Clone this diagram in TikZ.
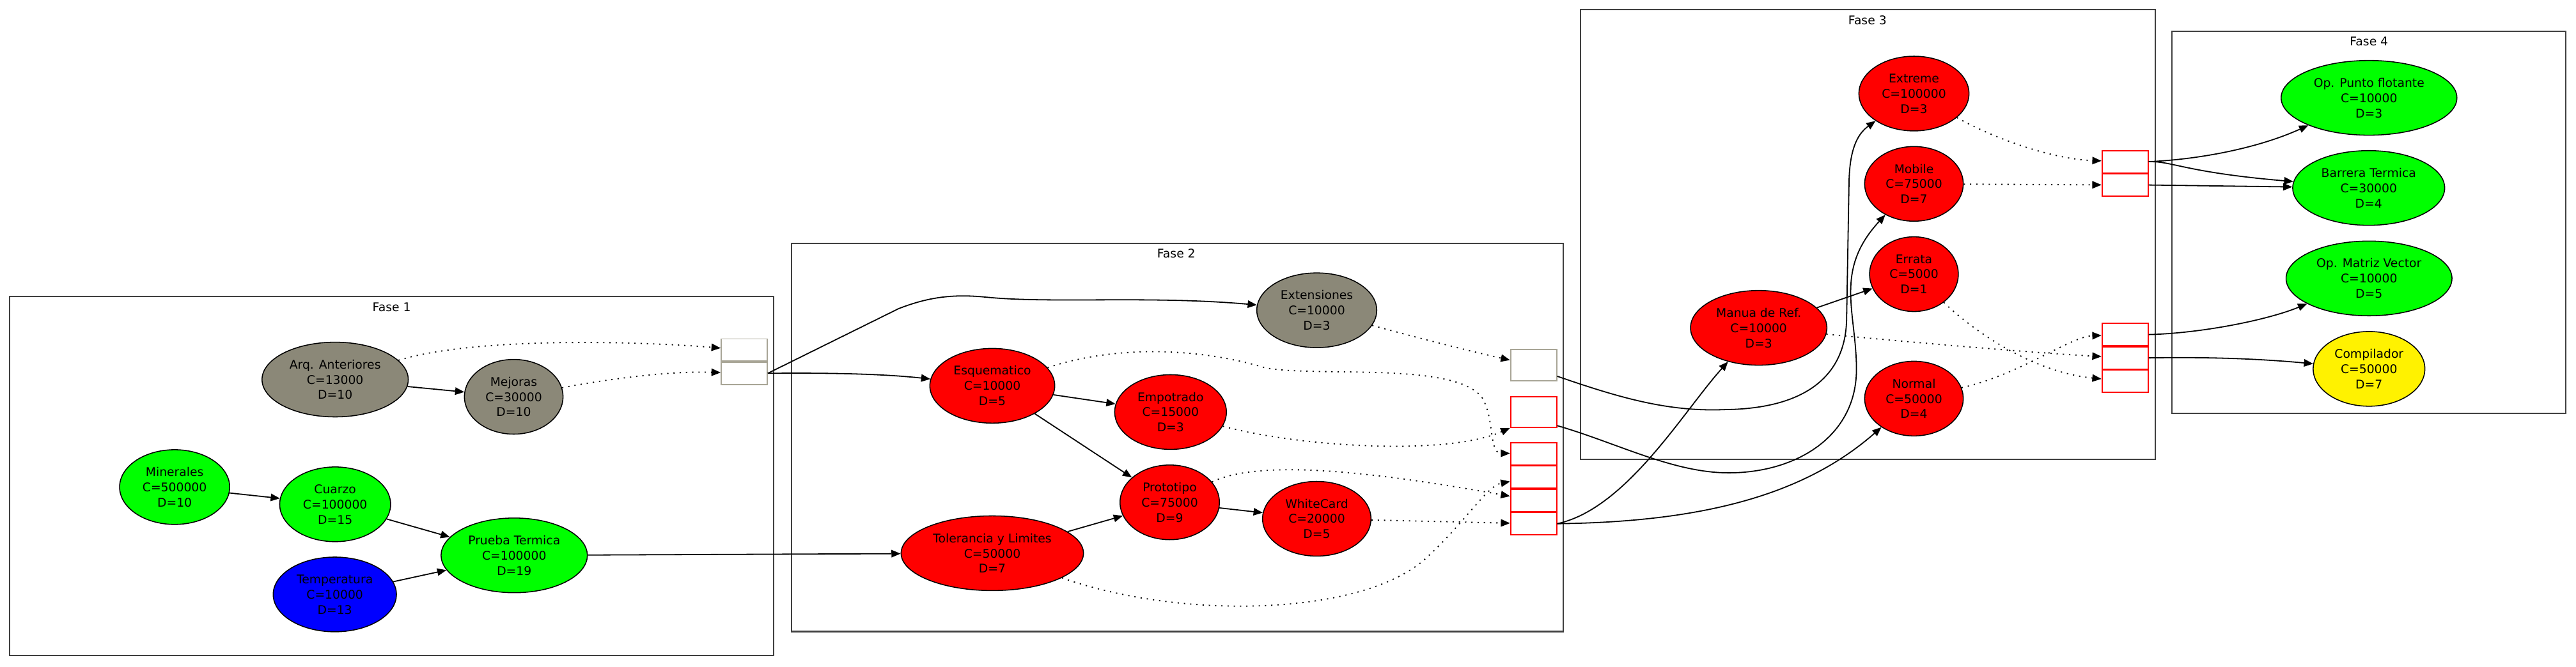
\documentclass[tikz,border=0pt]{standalone}
\usepackage{fontspec}
\setmainfont{DejaVu Sans}
\usetikzlibrary{positioning,shapes.geometric,arrows.meta}
\definecolor{oldgray}{HTML}{8B8878}
\definecolor{boxgray}{HTML}{A8A596}
\definecolor{lime}{HTML}{00FF00}

\begin{document}
\begin{tikzpicture}[x=1pt, y=-1pt,
    every node/.style={font=\fontsize{7.3}{9.3}\selectfont, align=center},
    task/.style={ellipse, draw=black, line width=0.6pt, inner sep=0pt, minimum height=45.5pt},
    graytask/.style={task, fill=oldgray},
    greentask/.style={task, fill=lime},
    bluetask/.style={task, fill=blue},
    redtask/.style={task, fill=red},
    yellowtask/.style={task, fill=yellow},
    port/.style={rectangle, inner sep=0pt, minimum width=28pt, minimum height=13.5pt, line width=0.7pt},
    grayport/.style={port, draw=boxgray},
    redport/.style={port, draw=red},
    fase/.style={draw=black!75, line width=0.8pt},
    dep/.style={-{Triangle[length=5.6pt,width=4.5pt]}, line width=0.7pt},
    wait/.style={dep, dash pattern=on 0.8pt off 3pt},
    ]
      \useasboundingbox (0,0) rectangle (1568,406);

      %Clusters
      \draw[fase] (6,180.5) rectangle (471,399.3);
      \draw[fase] (481.8,148.3) rectangle (951.5,384.7);
      \draw[fase] (962,6) rectangle (1311.8,280);
      \draw[fase] (1321.9,19) rectangle (1561.9,251.7);
      \node      (fase1)  at (238.4,187)    {Fase 1};
      \node      (fase2)  at (716,154.5)    {Fase 2};
      \node      (fase3)  at (1136.7,12.3)  {Fase 3};
      \node      (fase4)  at (1442,25.3)    {Fase 4};

      %Nodes
      % Fase 1
      \node      (arq)  [graytask, minimum width=89pt]    at (204,231.2)   {Arq. Anteriores\\C=13000\\D=10};
      \node      (mej)  [graytask, minimum width=60pt]    at (312.7,241.7) {Mejoras\\C=30000\\D=10};
      \node      (min)  [greentask, minimum width=67pt]   at (106.3,296.7) {Minerales\\C=500000\\D=10};
      \node      (cua)  [greentask, minimum width=67.5pt] at (204,307.2)   {Cuarzo\\C=100000\\D=15};
      \node      (pru)  [greentask, minimum width=89pt]   at (313,338.3)   {Prueba Termica\\C=100000\\D=19};
      \node      (tem)  [bluetask, minimum width=75pt]    at (203.8,362.1) {Temperatura\\C=10000\\D=13};
      \node      (f1a)  [grayport]                        at (453,213.2)   {};
      \node      (f1b)  [grayport, below=0pt of f1a]      {};

      % Fase 2
      \node      (ext)  [graytask, minimum width=73pt]    at (801.5,189)   {Extensiones\\C=10000\\D=3};
      \node      (esq)  [redtask, minimum width=76pt]     at (604,235)     {Esquematico\\C=10000\\D=5};
      \node      (emp)  [redtask, minimum width=68pt]     at (712.5,251)   {Empotrado\\C=15000\\D=3};
      \node      (pro)  [redtask, minimum width=60.5pt]   at (712,306)     {Prototipo\\C=75000\\D=9};
      \node      (whi)  [redtask, minimum width=66pt]     at (801.5,316)   {WhiteCard\\C=20000\\D=5};
      \node      (tol)  [redtask, minimum width=111pt]    at (604,337)     {Tolerancia y Limites\\C=50000\\D=7};
      \node      (f2g)  [grayport, minimum height=19pt]   at (933.5,222.5) {};
      \node      (f2r)  [redport, minimum height=18.7pt]  at (933.5,251)   {};
      \node      (s1)   [redport]                         at (933.5,276.4) {};
      \node      (s2)   [redport, below=0pt of s1]        {};
      \node      (s3)   [redport, below=0pt of s2]        {};
      \node      (s4)   [redport, below=0pt of s3]        {};

      % Fase 3
      \node      (xtr)  [redtask, minimum width=67pt]     at (1165,57)     {Extreme\\C=100000\\D=3};
      \node      (mob)  [redtask, minimum width=60pt]     at (1165,112)    {Mobile\\C=75000\\D=7};
      \node      (err)  [redtask, minimum width=54pt]     at (1165,167)    {Errata\\C=5000\\D=1};
      \node      (man)  [redtask, minimum width=83pt]     at (1070.5,199.7) {Manua de Ref.\\C=10000\\D=3};
      \node      (nor)  [redtask, minimum width=60pt]     at (1165,242.8)  {Normal\\C=50000\\D=4};
      \node      (t1)   [redport]                         at (1293.5,98.5) {};
      \node      (t2)   [redport, below=0pt of t1]        {};
      \node      (b1)   [redport]                         at (1293.5,203.8) {};
      \node      (b2)   [redport, below=0pt of b1]        {};
      \node      (b3)   [redport, below=0pt of b2]        {};

      % Fase 4
      \node      (opf)  [greentask, minimum width=107pt]  at (1442,59.6)   {Op. Punto flotante\\C=10000\\D=3};
      \node      (bar)  [greentask, minimum width=92.5pt] at (1441.8,114.5) {Barrera Termica\\C=30000\\D=4};
      \node      (omv)  [greentask, minimum width=101pt]  at (1442,169.6)  {Op. Matriz Vector\\C=10000\\D=5};
      \node      (com)  [yellowtask, minimum width=68pt]  at (1442,224.7)  {Compilador\\C=50000\\D=7};

      %Lines
      % Fase 1
      \draw[dep]  (arq) -- (mej);
      \draw[dep]  (min) -- (cua);
      \draw[dep]  (cua) -- (pru);
      \draw[dep]  (tem) -- (pru);
      \draw[wait] (arq) .. controls (290,205) and (390,208) .. (f1a);
      \draw[wait] (mej) .. controls (375,230) and (410,226) .. (f1b);
      \draw[dep]  (f1b.east) .. controls (510,227) and (540,228) .. (esq);
      \draw[dep]  (f1b.east) -- (547,188) .. controls (565,181) and (580,179) .. (600,181)
                  .. controls (640,185) and (700,180) .. (ext);
      \draw[dep]  (pru) -- (tol);

      % Fase 2
      \draw[dep]  (esq) -- (emp);
      \draw[dep]  (esq) -- (pro);
      \draw[dep]  (tol) -- (pro);
      \draw[dep]  (pro) -- (whi);
      \draw[wait] (ext) .. controls (860,205) and (895,214) .. (f2g);
      \draw[wait] (esq) .. controls (680,210) and (730,212) .. (770,224)
                  .. controls (800,230) and (885,220) .. (902,242)
                  .. controls (910,255) and (906,276) .. (s1);
      \draw[wait] (emp) .. controls (790,272) and (880,278) .. (f2r.south west);
      \draw[wait] (tol) .. controls (720,378) and (830,375) .. (868,340)
                  .. controls (892,318) and (905,296) .. (s2);
      \draw[wait] (pro) .. controls (770,278) and (850,290) .. (s3);
      \draw[wait] (whi) -- (s4);

      % Fase 2 to Fase 3
      \draw[dep]  (f2g.-25) .. controls (985,242) and (1015,251) .. (1050,249.5)
                  .. controls (1095,249) and (1123,232) .. (1124,195) -- (1125.5,110)
                  .. controls (1126,92) and (1130,82) .. (xtr);
      \draw[dep]  (f2r.-30) .. controls (985,270) and (1020,289) .. (1055,288)
                  .. controls (1095,287) and (1130,265) .. (1130,225)
                  .. controls (1130,190) and (1116,165) .. (mob);
      \draw[dep]  (s4.east) .. controls (990,310) and (1025,250) .. (man);
      \draw[dep]  (s4.east) .. controls (1040,318) and (1100,300) .. (nor);

      % Fase 3
      \draw[dep]  (man) -- (err);
      \draw[wait] (xtr) .. controls (1215,85) and (1250,97) .. (t1);
      \draw[wait] (mob) -- (t2);
      \draw[wait] (nor) .. controls (1230,228) and (1260,205) .. (b1);
      \draw[wait] (man) .. controls (1180,210) and (1240,215) .. (b2);
      \draw[wait] (err) .. controls (1205,205) and (1240,227) .. (b3);

      % Fase 3 to Fase 4
      \draw[dep]  (t1.east) .. controls (1340,97) and (1375,90) .. (opf);
      \draw[dep]  (t1.east) .. controls (1322,98) and (1330,105) .. (bar);
      \draw[dep]  (t2.east) -- (bar);
      \draw[dep]  (b1.east) .. controls (1340,203) and (1380,195) .. (omv);
      \draw[dep]  (b2.east) .. controls (1350,217.3) and (1380,219) .. (com);
    \end{tikzpicture}
\end{document}
